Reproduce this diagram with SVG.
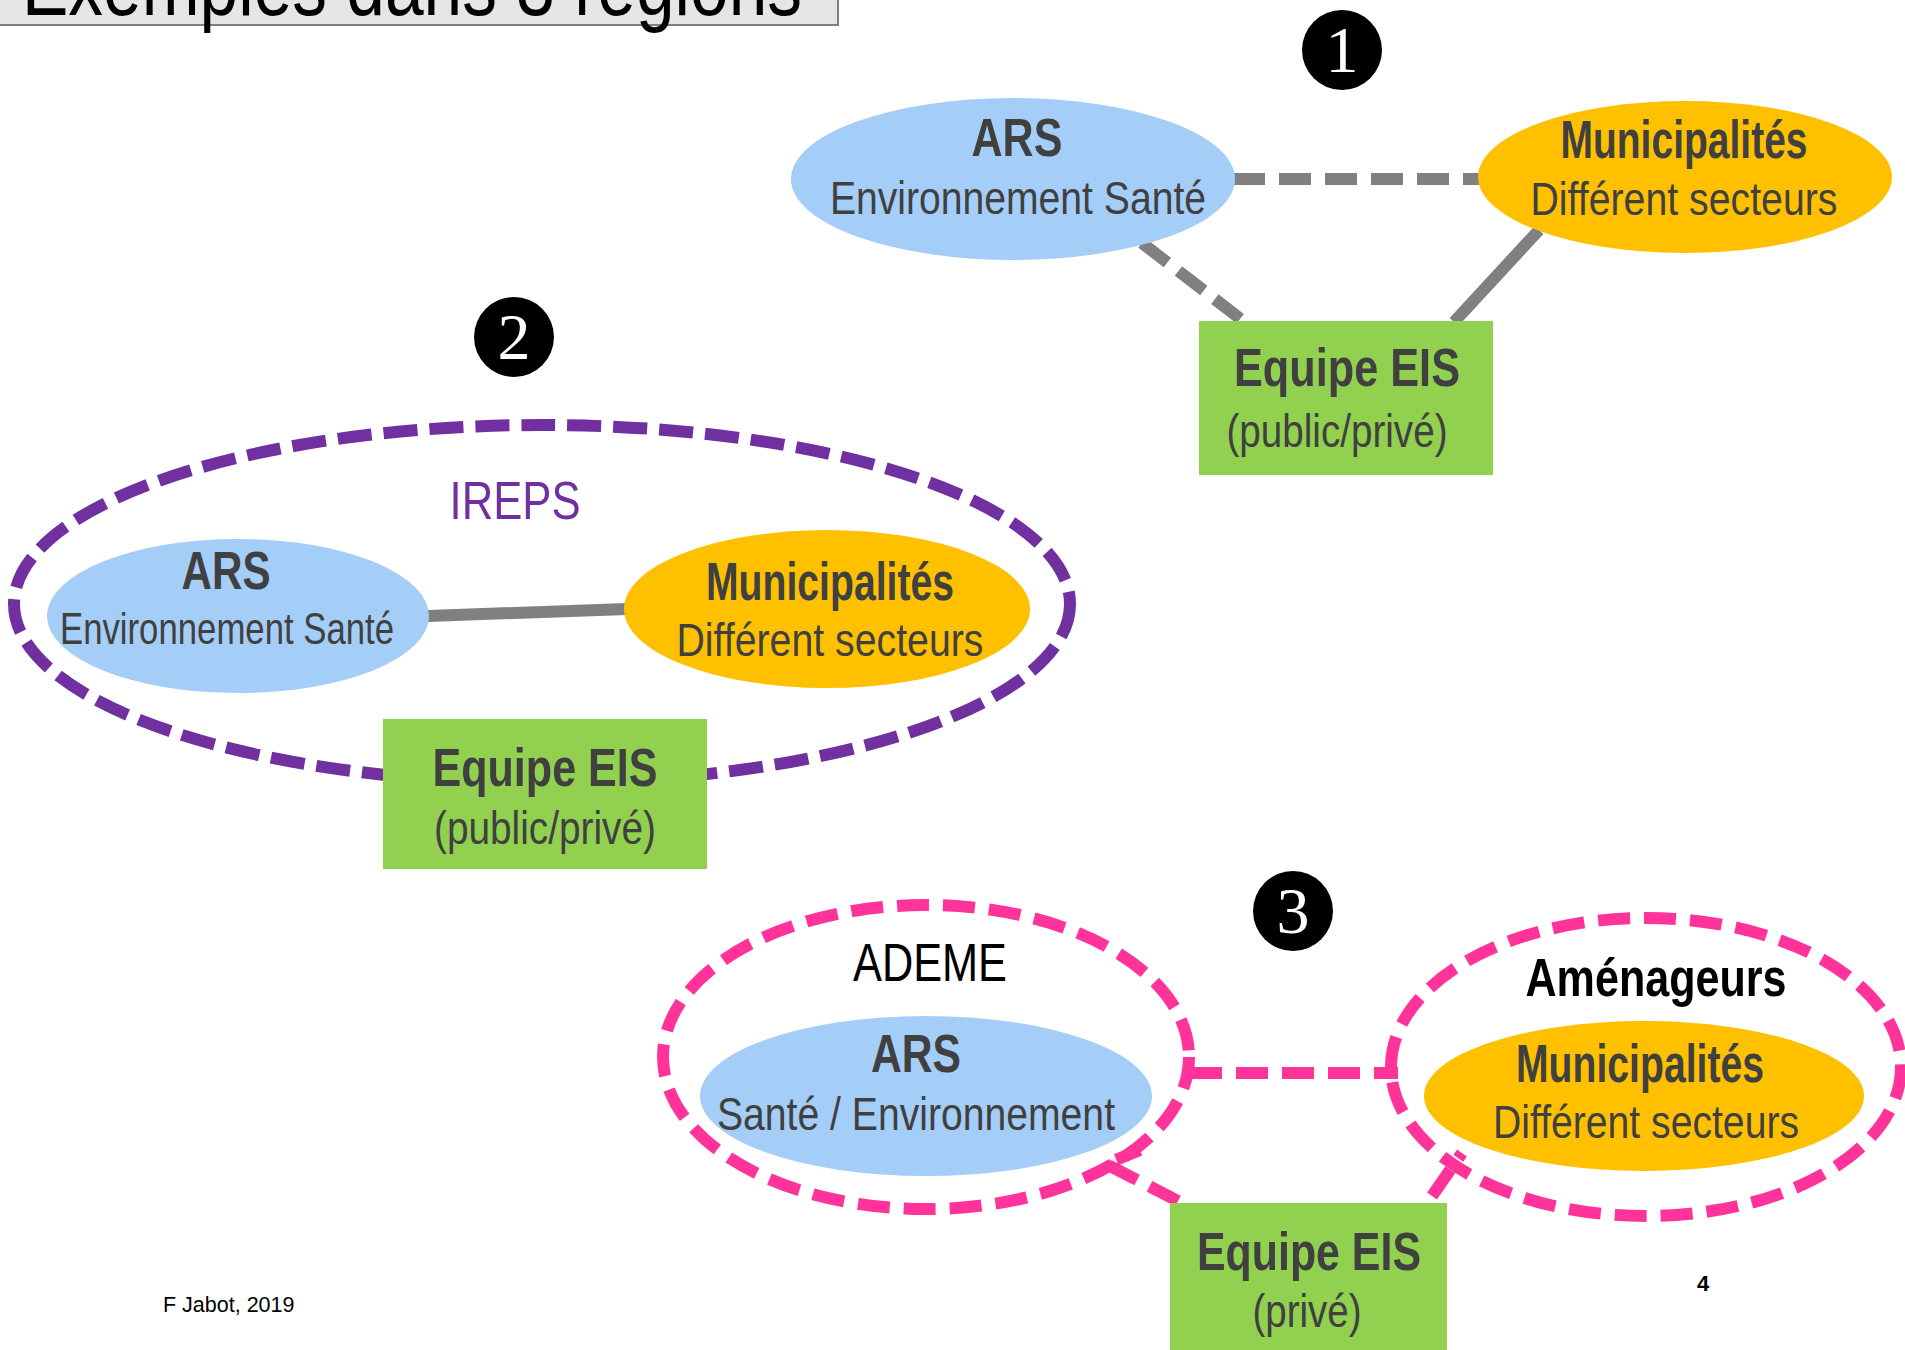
<svg xmlns="http://www.w3.org/2000/svg" width="1905" height="1350" viewBox="0 0 1905 1350">
<style>
text{font-family:"Liberation Sans Narrow","Liberation Sans",Arial,sans-serif;}
.t{fill:#404040;text-anchor:middle;}
.b{font-weight:bold;font-size:54px;}
.r{font-size:47px;}
.blue{fill:#A4CDF7;}
.orange{fill:#FFC000;}
.green{fill:#92D050;}
.num{fill:#000;}
.numt{font-family:"Liberation Serif","DejaVu Serif",serif;fill:#fff;font-size:66px;text-anchor:middle;}
.gs{stroke:#808080;stroke-width:12;fill:none;}
.gd{stroke:#808080;stroke-width:12;fill:none;stroke-dasharray:32 14;}
.pd{stroke:#7030A0;stroke-width:12;fill:none;stroke-dasharray:34 12;}
.kd{stroke:#FF3399;stroke-width:12;fill:none;stroke-dasharray:32 14;}
</style>

<g id="title">
<rect x="-2" y="-60" width="840" height="85" fill="#e6e6e6" stroke="#808080" stroke-width="2"/>
<text x="22" y="15" font-size="88" fill="#000" textLength="780" lengthAdjust="spacingAndGlyphs">Exemples dans 3 régions</text>
</g>

<g id="groups">
<ellipse id="ireps" cx="542" cy="604" rx="528" ry="179" class="pd"/>
<ellipse id="ademe" cx="926" cy="1057" rx="263" ry="152" class="kd"/>
<ellipse id="amenageurs" cx="1646" cy="1067" rx="255" ry="149" class="kd"/>
</g>

<g id="connectors">
<line x1="1233" y1="179" x2="1480" y2="179" class="gd"/>
<line x1="1142" y1="243" x2="1242" y2="320" class="gd"/>
<line x1="1539" y1="230" x2="1454" y2="322" class="gs"/>
<line x1="428" y1="616" x2="627" y2="609" class="gs"/>
<line x1="1190" y1="1073" x2="1398" y2="1073" class="kd"/>
<polyline points="1178,1201 1106,1164 1140,1150" class="kd"/>
<line x1="1432" y1="1196" x2="1462" y2="1153" class="kd"/>
</g>

<g id="n1-badge"><circle cx="1342" cy="50" r="40" class="num"/><text x="1342" y="72" class="numt">1</text></g>
<g id="n1-ars">
<ellipse cx="1013" cy="179" rx="222" ry="81" class="blue"/>
<text x="1017" y="156" class="t b" textLength="91" lengthAdjust="spacingAndGlyphs">ARS</text>
<text x="1018" y="214" class="t r" textLength="376" lengthAdjust="spacingAndGlyphs">Environnement Santé</text>
</g>
<g id="n1-muni">
<ellipse cx="1685" cy="177" rx="207" ry="76" class="orange"/>
<text x="1684" y="158" class="t b" textLength="247" lengthAdjust="spacingAndGlyphs">Municipalités</text>
<text x="1684" y="215" class="t r" textLength="307" lengthAdjust="spacingAndGlyphs">Différent secteurs</text>
</g>
<g id="n1-eis">
<rect x="1199" y="321" width="294" height="154" class="green"/>
<text x="1347" y="386" class="t b" textLength="226" lengthAdjust="spacingAndGlyphs">Equipe EIS</text>
<text x="1337" y="447" class="t r" textLength="221" lengthAdjust="spacingAndGlyphs">(public/privé)</text>
</g>

<g id="n2-badge"><circle cx="514" cy="337" r="40" class="num"/><text x="514" y="359" class="numt">2</text></g>
<g id="n2-ireps-label"><text x="515" y="519" font-size="53" fill="#7030A0" text-anchor="middle" textLength="131" lengthAdjust="spacingAndGlyphs">IREPS</text></g>
<g id="n2-ars">
<ellipse cx="238" cy="616" rx="191" ry="77" class="blue"/>
<text x="226" y="589" class="t b" textLength="89" lengthAdjust="spacingAndGlyphs">ARS</text>
<text x="227" y="644" class="t" font-size="44" textLength="334" lengthAdjust="spacingAndGlyphs">Environnement Santé</text>
</g>
<g id="n2-muni">
<ellipse cx="827" cy="609" rx="203" ry="79" class="orange"/>
<text x="830" y="600" class="t b" textLength="248" lengthAdjust="spacingAndGlyphs">Municipalités</text>
<text x="830" y="656" class="t r" textLength="307" lengthAdjust="spacingAndGlyphs">Différent secteurs</text>
</g>
<g id="n2-eis">
<rect x="383" y="719" width="324" height="150" class="green"/>
<text x="545" y="786" class="t b" textLength="225" lengthAdjust="spacingAndGlyphs">Equipe EIS</text>
<text x="545" y="844" class="t r" textLength="222" lengthAdjust="spacingAndGlyphs">(public/privé)</text>
</g>

<g id="n3-badge"><circle cx="1293" cy="911" r="40" class="num"/><text x="1293" y="933" class="numt">3</text></g>
<g id="n3-ademe-label"><text x="930" y="981" font-size="53" fill="#000" text-anchor="middle" textLength="154" lengthAdjust="spacingAndGlyphs">ADEME</text></g>
<g id="n3-amenageurs-label"><text x="1656" y="996" font-size="54" font-weight="bold" fill="#000" text-anchor="middle" textLength="261" lengthAdjust="spacingAndGlyphs">Aménageurs</text></g>
<g id="n3-ars">
<ellipse cx="926" cy="1096" rx="226" ry="80" class="blue"/>
<text x="916" y="1072" class="t b" textLength="90" lengthAdjust="spacingAndGlyphs">ARS</text>
<text x="916" y="1130" class="t r" textLength="398" lengthAdjust="spacingAndGlyphs">Santé / Environnement</text>
</g>
<g id="n3-muni">
<ellipse cx="1644" cy="1096" rx="220" ry="75" class="orange"/>
<text x="1640" y="1082" class="t b" textLength="248" lengthAdjust="spacingAndGlyphs">Municipalités</text>
<text x="1646" y="1138" class="t r" textLength="306" lengthAdjust="spacingAndGlyphs">Différent secteurs</text>
</g>
<g id="n3-eis">
<rect x="1170" y="1203" width="277" height="150" class="green"/>
<text x="1309" y="1270" class="t b" textLength="224" lengthAdjust="spacingAndGlyphs">Equipe EIS</text>
<text x="1307" y="1327" class="t r" textLength="109" lengthAdjust="spacingAndGlyphs">(privé)</text>
</g>

<g id="footer">
<text x="1703" y="1291" font-size="22" font-weight="bold" fill="#000" text-anchor="middle" style="font-family:'Liberation Sans',Arial,sans-serif">4</text>
<text x="163" y="1312" font-size="21.5" fill="#000" style="font-family:'Liberation Sans',Arial,sans-serif">F Jabot, 2019</text>
</g>
</svg>
